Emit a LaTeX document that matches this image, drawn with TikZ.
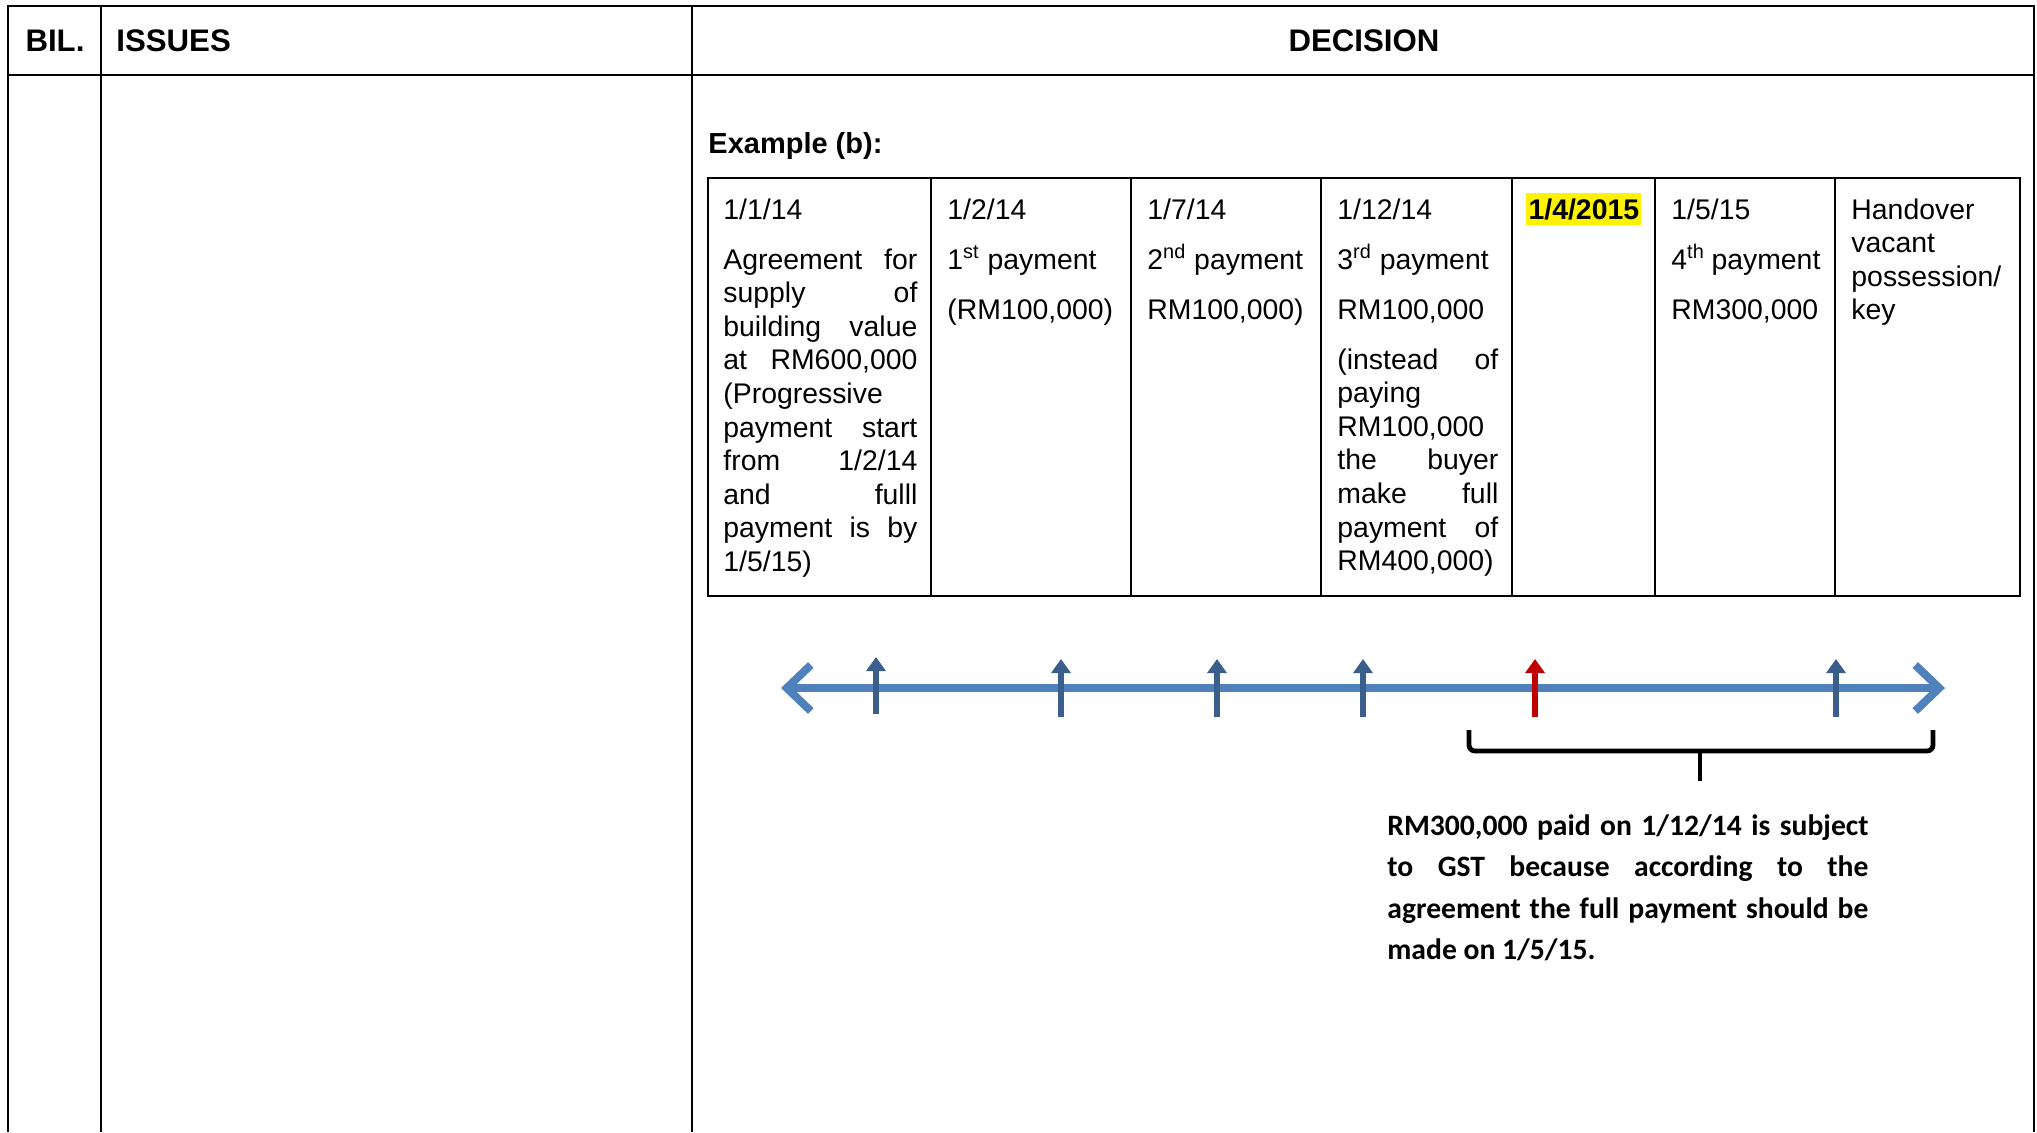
\documentclass[tikz,border=0pt]{standalone}
\usepackage{fontspec}
\setmainfont{Liberation Sans}
\newfontfamily\notefont{Carlito}
\usetikzlibrary{arrows.meta}
\tolerance=10000
\hbadness=10000
\definecolor{lineblue}{RGB}{79,129,189}
\definecolor{tickblue}{RGB}{58,95,140}
\definecolor{tickred}{RGB}{192,0,0}
\tikzstyle{frame} = [draw, line width=1.2pt]
\tikzstyle{grid} = [draw, line width=1pt]
\tikzstyle{head} = [inner sep=0pt, anchor=base,
    font=\fontsize{15.6}{18}\selectfont\bfseries]
\tikzstyle{cell} = [inner sep=0pt, anchor=base west, align=justify,
    font=\fontsize{14.2}{16.8}\selectfont]
\tikzstyle{leftcell} = [inner sep=0pt, anchor=base west, align=left,
    font=\fontsize{14.2}{16.8}\selectfont]
\tikzstyle{timeline} = [draw=lineblue, line width=4pt,
    {Straight Barb[length=12pt,width=23pt]}-{Straight Barb[length=12pt,width=23pt]}]
\tikzstyle{tick} = [draw=tickblue, line width=3.2pt, -{Triangle[length=7pt,width=9.5pt]}]
\tikzstyle{brace} = [draw, line width=2.4pt, rounded corners=3pt]
\tikzstyle{note} = [inner sep=0pt, anchor=base west, align=justify, text width=240.5pt,
    font=\notefont\bfseries\fontsize{14.8}{20.75}\selectfont]

\begin{document}
\begin{tikzpicture}[x=0.5pt, y=-0.5pt]
    \useasboundingbox (0,0) rectangle (2037,1132);
    % outer table
    \draw [frame] (8,1132) -- (8,6) -- (2034,6) -- (2034,1132);
    \draw [frame] (8,75) -- (2034,75);
    \draw [frame] (101,6) -- (101,1132) (692,6) -- (692,1132);
    \node [head] (bil) at (55,51) {BIL.};
    \node [head, anchor=base west] (issues) at (116,51) {ISSUES};
    \node [head] (decision) at (1364,51) {DECISION};
    \node [head, anchor=base west, font=\fontsize{14.5}{17}\selectfont\bfseries]
        (example) at (708,153) {Example (b):};

    % inner table
    \draw [grid] (708,178) rectangle (2020,596);
    \draw [grid] (931,178) -- (931,596) (1131,178) -- (1131,596)
        (1321,178) -- (1321,596) (1512,178) -- (1512,596)
        (1655,178) -- (1655,596) (1835,178) -- (1835,596);
    \node [cell, text width=97pt] (agree) at (723,219)
        {1/1/14\\[8.2pt]
        Agreement for\linebreak supply of\linebreak building value\linebreak
        at RM600,000\linebreak (Progressive\linebreak payment start\linebreak
        from 1/2/14\linebreak and fulll\linebreak payment is by\linebreak 1/5/15)};
    \node [cell, text width=84.5pt] (pay1) at (947,219)
        {1/2/14\\[8.2pt] 1\textsuperscript{st} payment\\[8.2pt] (RM100,000)};
    \node [cell, text width=79.5pt] (pay2) at (1147,219)
        {1/7/14\\[8.2pt] 2\textsuperscript{nd} payment\\[8.2pt] RM100,000)};
    \node [cell, text width=80.5pt] (pay3) at (1337,219)
        {1/12/14\\[8.2pt] 3\textsuperscript{rd} payment\\[8.2pt] RM100,000\\[8.2pt]
        (instead of\linebreak paying\linebreak RM100,000\linebreak the buyer\linebreak
        make full\linebreak payment of\linebreak RM400,000)};
    \node [inner xsep=1.1pt, inner ysep=0pt, anchor=base west, fill=yellow,
        text height=12.9pt, text depth=3.2pt,
        font=\fontsize{14.2}{16.8}\selectfont\bfseries] (gst) at (1526,219) {1/4/2015};
    \node [cell, text width=74.5pt] (pay4) at (1671,219)
        {1/5/15\\[8.2pt] 4\textsuperscript{th} payment\\[8.2pt] RM300,000};
    \node [leftcell, text width=77pt] (handover) at (1851,219)
        {Handover\\vacant\\possession/\\key};

    % timeline
    \coordinate (left) at (781,688);
    \coordinate (right) at (1945,688);
    \path [timeline] (left) -- (right);
    \coordinate (b1) at (876,714);  \coordinate (u1) at (876,657);
    \coordinate (b2) at (1061,717); \coordinate (u2) at (1061,659);
    \coordinate (b3) at (1217,717); \coordinate (u3) at (1217,659);
    \coordinate (b4) at (1363,717); \coordinate (u4) at (1363,659);
    \coordinate (b5) at (1535,717); \coordinate (u5) at (1535,659);
    \coordinate (b6) at (1836,717); \coordinate (u6) at (1836,659);
    \path [tick] (b1) -- (u1);
    \path [tick] (b2) -- (u2);
    \path [tick] (b3) -- (u3);
    \path [tick] (b4) -- (u4);
    \path [tick, draw=tickred] (b5) -- (u5);
    \path [tick] (b6) -- (u6);

    % brace and note
    \coordinate (bl) at (1469,730);
    \coordinate (br) at (1933,730);
    \coordinate (bc) at (1700,751);
    \coordinate (bm) at (1700,781);
    \path [brace] (bl) |- (bc) -| (br);
    \path [brace] (bc) -- (bm);
    \node [note] (gstnote) at (1387,835)
        {RM300,000 paid on 1/12/14 is subject\linebreak to GST because according to the\linebreak
        agreement the full payment should be\linebreak made on 1/5/15.};
\end{tikzpicture}
\end{document}
